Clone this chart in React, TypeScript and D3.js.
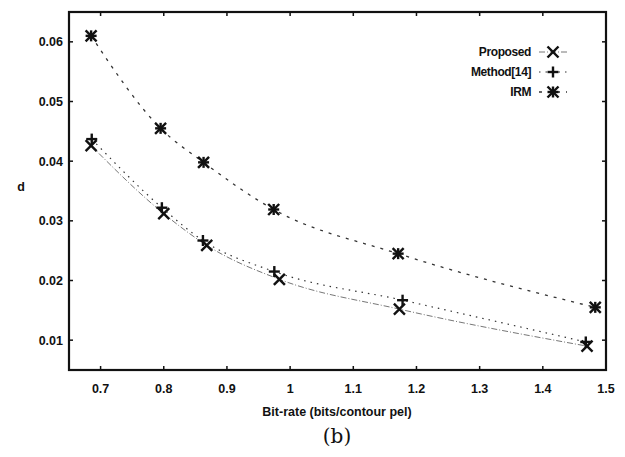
import { useEffect, useRef } from "react";
import * as d3 from "d3";

// bit-rate values (bits/contour pel) and distortion d per method
const proposedX = [0.685, 0.8, 0.868, 0.983, 1.173, 1.47];
const proposedY = [0.0426, 0.0312, 0.0259, 0.0202, 0.0152, 0.009];
const methodX = [0.686, 0.797, 0.862, 0.975, 1.178, 1.468];
const methodY = [0.0437, 0.0322, 0.0267, 0.0215, 0.0167, 0.0097];
const irmX = [0.685, 0.795, 0.863, 0.974, 1.171, 1.483];
const irmY = [0.061, 0.0455, 0.0398, 0.0319, 0.0245, 0.0155];

const xTicks = [0.7, 0.8, 0.9, 1, 1.1, 1.2, 1.3, 1.4, 1.5];
const yTicks = [0.01, 0.02, 0.03, 0.04, 0.05, 0.06];
const seriesNames = ["Proposed", "Method[14]", "IRM"];

const width = 625;
const height = 457;

export default function App() {
  const svgRef = useRef(null);

  useEffect(() => {
    const svg = d3.select(svgRef.current);
    svg.selectAll("*").remove();

    const margin = { top: 12, right: 19, bottom: 87, left: 69 };
    const x = d3.scaleLinear().domain([0.65, 1.5]).range([margin.left, width - margin.right]);
    const y = d3.scaleLinear().domain([0.005, 0.065]).range([height - margin.bottom, margin.top]);

    const font = "Arial, 'Liberation Sans', sans-serif";
    const x0 = margin.left, x1 = width - margin.right;
    const y0 = height - margin.bottom, y1 = margin.top;

    // frame
    svg.append("rect")
      .attr("x", x0).attr("y", y1)
      .attr("width", x1 - x0).attr("height", y0 - y1)
      .attr("fill", "none").attr("stroke", "#111").attr("stroke-width", 2.2);

    // mirrored inward ticks
    const tk = 4;
    xTicks.forEach((t) => {
      svg.append("line").attr("x1", x(t)).attr("x2", x(t)).attr("y1", y0).attr("y2", y0 - tk)
        .attr("stroke", "#111").attr("stroke-width", 1.5);
      svg.append("line").attr("x1", x(t)).attr("x2", x(t)).attr("y1", y1).attr("y2", y1 + tk)
        .attr("stroke", "#111").attr("stroke-width", 1.5);
      svg.append("text").attr("x", x(t)).attr("y", 393)
        .attr("text-anchor", "middle").attr("font-family", font).attr("font-weight", "bold")
        .attr("font-size", 12.5).attr("fill", "#111").text(String(t));
    });
    yTicks.forEach((t) => {
      svg.append("line").attr("x1", x0).attr("x2", x0 + tk).attr("y1", y(t)).attr("y2", y(t))
        .attr("stroke", "#111").attr("stroke-width", 1.5);
      svg.append("line").attr("x1", x1).attr("x2", x1 - tk).attr("y1", y(t)).attr("y2", y(t))
        .attr("stroke", "#111").attr("stroke-width", 1.5);
      svg.append("text").attr("x", 63).attr("y", y(t)).attr("dy", "0.35em")
        .attr("text-anchor", "end").attr("font-family", font).attr("font-weight", "bold")
        .attr("font-size", 12.5).attr("fill", "#111").text(String(t));
    });

    // axis titles
    svg.append("text").attr("x", 21).attr("y", 187).attr("dy", "0.35em")
      .attr("text-anchor", "middle").attr("font-family", font).attr("font-weight", "bold")
      .attr("font-size", 12.5).attr("fill", "#111").text("d");
    svg.append("text").attr("x", 337).attr("y", 416)
      .attr("text-anchor", "middle").attr("font-family", font).attr("font-weight", "bold")
      .attr("font-size", 12.5).attr("fill", "#111").text("Bit-rate (bits/contour pel)");
    svg.append("text").attr("x", 337).attr("y", 443)
      .attr("text-anchor", "middle").attr("font-family", "'DejaVu Serif', 'Liberation Serif', serif")
      .attr("font-size", 20).attr("fill", "#111").text("(b)");

    const series = [
      { xs: proposedX, ys: proposedY, dash: "6,2,1,2", color: "#777", sw: 1, marker: "x" },
      { xs: methodX, ys: methodY, dash: "1.5,5", color: "#333", sw: 1.2, marker: "+" },
      { xs: irmX, ys: irmY, dash: "3,6", color: "#333", sw: 1.3, marker: "*" },
    ];

    const line = d3.line<[number, number]>()
      .x((d) => x(d[0])).y((d) => y(d[1]))
      .curve(d3.curveMonotoneX);

    const drawMarker = (g, type, cx, cy) => {
      const s = 5.5;
      const st = (sel) => sel.attr("stroke", "#111").attr("stroke-width", 2.4);
      if (type === "x" || type === "*") {
        st(g.append("line").attr("x1", cx - s).attr("y1", cy - s).attr("x2", cx + s).attr("y2", cy + s));
        st(g.append("line").attr("x1", cx - s).attr("y1", cy + s).attr("x2", cx + s).attr("y2", cy - s));
      }
      if (type === "+" || type === "*") {
        st(g.append("line").attr("x1", cx - s).attr("y1", cy).attr("x2", cx + s).attr("y2", cy));
        st(g.append("line").attr("x1", cx).attr("y1", cy - s).attr("x2", cx).attr("y2", cy + s));
      }
    };

    series.forEach((s) => {
      const pts = s.xs.map((v, i) => [v, s.ys[i]] as [number, number]);
      svg.append("path").attr("d", line(pts)).attr("fill", "none")
        .attr("stroke", s.color).attr("stroke-width", s.sw).attr("stroke-dasharray", s.dash);
      const g = svg.append("g");
      pts.forEach((p) => drawMarker(g, s.marker, x(p[0]), y(p[1])));
    });

    // legend
    seriesNames.forEach((name, i) => {
      const ly = 52 + i * 20;
      const s = series[i];
      svg.append("text").attr("x", 531).attr("y", ly).attr("dy", "0.35em")
        .attr("text-anchor", "end").attr("font-family", font).attr("font-weight", "bold")
        .attr("font-size", 12).attr("letter-spacing", -0.4).attr("fill", "#111").text(name);
      svg.append("line").attr("x1", 539).attr("x2", 567).attr("y1", ly).attr("y2", ly)
        .attr("stroke", s.color).attr("stroke-width", s.sw).attr("stroke-dasharray", s.dash);
      const g = svg.append("g");
      drawMarker(g, s.marker, 553, ly);
    });
  }, []);

  return <svg ref={svgRef} width={width} height={height} style={{ display: "block", position: "absolute", left: 0, top: 0 }}></svg>;
}
